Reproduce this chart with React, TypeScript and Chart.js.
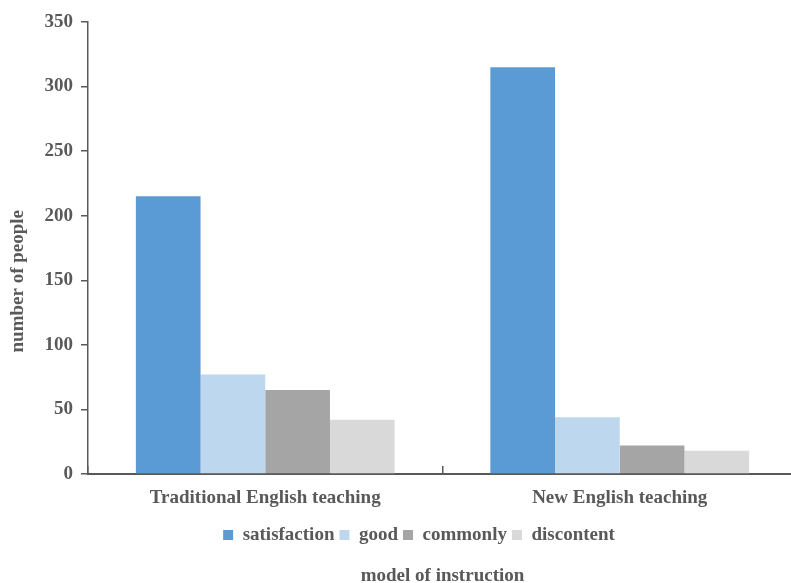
import React, { useEffect, useRef } from "react";
import { Chart, registerables } from "chart.js";

Chart.register(...registerables);

const categories = ["Traditional English teaching", "New English teaching"];
const seriesNames = ["satisfaction", "good", "commonly", "discontent"];
const satisfaction = [215, 315];
const good = [77, 44];
const commonly = [65, 22];
const discontent = [42, 18];
const seriesValues = [satisfaction, good, commonly, discontent];
const seriesColors = ["#5B9BD5", "#BDD7EE", "#A5A5A5", "#D9D9D9"];
const yTicks = [0, 50, 100, 150, 200, 250, 300, 350];

const xTitle = "model of instruction";
const yTitle = "number of people";

const TEXT = "#595959";
const FAMILY = "'Liberation Serif', 'Times New Roman', serif";

export default function App() {
  const ref = useRef<HTMLCanvasElement | null>(null);

  useEffect(() => {
    document.documentElement.style.overflow = "hidden";
    document.body.style.overflow = "hidden";
    const canvas = ref.current;
    if (!canvas) return;
    const font = { family: FAMILY, size: 19, weight: "bold" as const };
    const chart = new Chart(canvas, {
      type: "bar",
      data: {
        labels: categories,
        datasets: seriesNames.map((name, i) => ({
          label: name,
          data: seriesValues[i],
          backgroundColor: seriesColors[i],
          borderWidth: 0,
          yAxisID: "y",
          categoryPercentage: 0.73,
          barPercentage: 1.0,
        })),
      },
      options: {
        animation: false,
        responsive: true,
        maintainAspectRatio: false,
        devicePixelRatio: 1,
        layout: { padding: { top: 22, left: 0, right: 0, bottom: 0 } },
        plugins: {
          tooltip: { enabled: false },
          legend: {
            position: "bottom",
            fullSize: true,
            labels: {
              boxWidth: 10,
              boxHeight: 10,
              padding: 5,
              color: TEXT,
              font,
            },
          },
          title: {
            display: true,
            text: xTitle,
            position: "bottom",
            fullSize: false,
            color: TEXT,
            font,
            padding: { top: 10.1, bottom: 12.6 },
          },
        },
        scales: {
          x: {
            type: "category",
            grid: {
              display: true,
              drawOnChartArea: false,
              drawTicks: true,
              tickLength: -8,
              color: "#595959",
              lineWidth: 1.5,
            },
            border: { display: true, color: "#595959", width: 2 },
            ticks: {
              color: TEXT,
              font,
              padding: 21,
              maxRotation: 0,
              autoSkip: false,
            },
            afterFit: (s: any) => {
              s.height = 46.5;
            },
          },
          y: {
            type: "linear",
            position: "left",
            min: 0,
            max: 350,
            afterBuildTicks: (s: any) => {
              s.ticks = yTicks.map((v) => ({ value: v }));
            },
            grid: {
              display: true,
              drawOnChartArea: false,
              drawTicks: true,
              tickLength: 7,
              color: "#595959",
              lineWidth: 1.5,
            },
            border: { display: true, color: "#595959", width: 1.5 },
            ticks: {
              color: TEXT,
              font,
              padding: 8,
            },
            title: {
              display: true,
              text: yTitle + "\u00a0".repeat(14),
              color: TEXT,
              font,
              padding: { top: 6.6, bottom: 0 },
            },
            afterFit: (s: any) => {
              s.width = 88;
            },
          },
          yR: {
            type: "linear",
            position: "right",
            display: true,
            grid: { display: false, drawTicks: false },
            border: { display: false },
            ticks: { display: false },
            afterFit: (s: any) => {
              s.width = 41;
            },
          },
        },
      },
    });
    return () => chart.destroy();
  }, []);

  return (
    <div
      style={{
        position: "fixed",
        left: 0,
        top: 0,
        width: 791,
        height: 583,
        overflow: "hidden",
        background: "#fff",
      }}
    >
      <div style={{ position: "relative", width: 838, height: 600 }}>
        <canvas ref={ref} />
      </div>
    </div>
  );
}
